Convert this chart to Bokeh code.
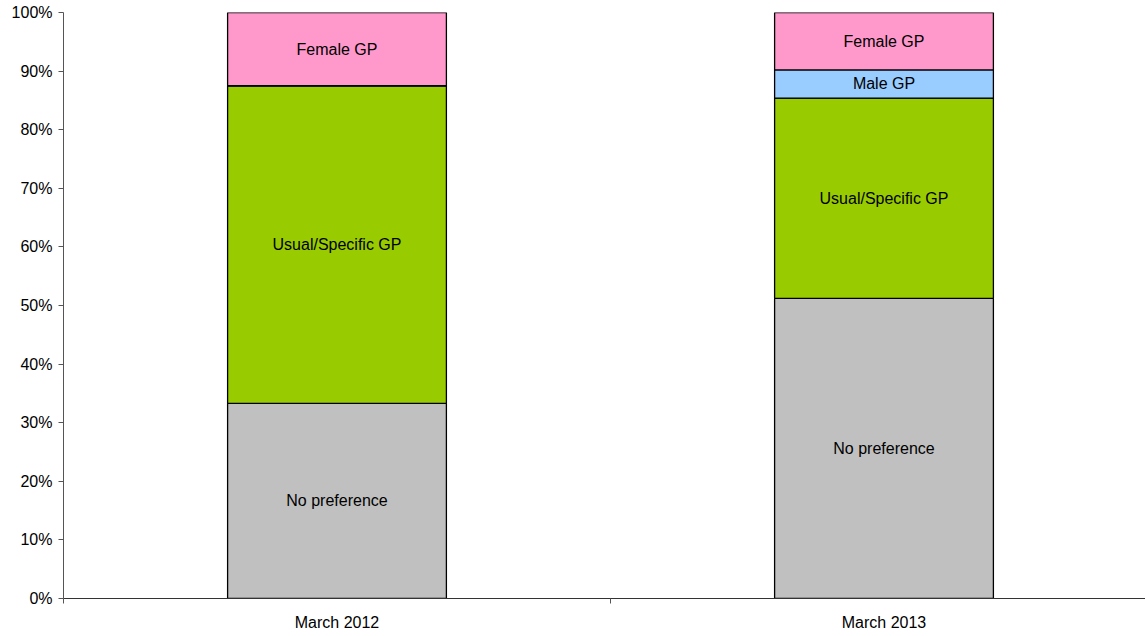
from bokeh.plotting import figure
from bokeh.models import ColumnDataSource, Range1d, FixedTicker, LabelSet
from bokeh.core.properties import value
from bokeh.embed import file_html
from bokeh.resources import INLINE

categories = ["March 2012", "March 2013"]
series = ["No preference", "Usual/Specific GP", "Male GP", "Female GP"]
no_pref = [33.3, 51.2]
usual = [54.2, 34.2]
male = [0.0, 4.8]
female = [12.5, 9.8]
colors = ["#C0C0C0", "#99CC00", "#99CCFF", "#FF99CC"]
y_ticks = [0, 10, 20, 30, 40, 50, 60, 70, 80, 90, 100]

xpos = [i + 0.5 for i in range(len(categories))]
data = {"x": xpos, "No preference": no_pref, "Usual/Specific GP": usual,
        "Male GP": male, "Female GP": female}
src = ColumnDataSource(data)

p = figure(width=1145, height=636, frame_width=1082, frame_height=586,
           min_border_left=63, min_border_top=12, min_border_right=0, min_border_bottom=38,
           output_backend="svg", toolbar_location=None,
           x_range=Range1d(0, 1082 / 547), y_range=Range1d(0, 100))
p.outline_line_color = None
p.xgrid.visible = False
p.ygrid.visible = False

p.vbar_stack(series, x="x", width=0.4, source=src, fill_color=colors,
             line_color="black", line_width=1.3)

# labels at segment centers
lx, ly, lt = [], [], []
vals = [no_pref, usual, male, female]
for i in range(len(categories)):
    base = 0.0
    for name, v in zip(series, vals):
        if v[i] > 0:
            lx.append(xpos[i]); ly.append(base + v[i] / 2); lt.append(name)
        base += v[i]
lsrc = ColumnDataSource(dict(x=lx, y=ly, t=lt))
p.add_layout(LabelSet(x="x", y="y", text="t", source=lsrc, text_align="center",
                      text_baseline="middle", text_font=value("Liberation Sans"),
                      text_font_size=value("16px"), text_color="black"))

p.yaxis.ticker = FixedTicker(ticks=y_ticks)
p.yaxis.major_label_overrides = {t: f"{t}%" for t in y_ticks}
p.yaxis.minor_tick_line_color = None
p.yaxis.major_tick_in = 0
p.yaxis.major_tick_out = 5
p.yaxis.axis_line_color = "#555555"
p.yaxis.major_tick_line_color = "#555555"
p.yaxis.major_label_text_font = "Liberation Sans"
p.yaxis.major_label_text_font_size = "16px"
p.yaxis.major_label_text_color = "black"
p.yaxis.major_label_standoff = 6

p.xaxis.ticker = FixedTicker(ticks=xpos, minor_ticks=[0, 1, 2])
p.xaxis.major_label_overrides = {x: c for x, c in zip(xpos, categories)}
p.xaxis.major_tick_in = 0
p.xaxis.major_tick_out = 0
p.xaxis.minor_tick_in = 0
p.xaxis.minor_tick_out = 5
p.xaxis.minor_tick_line_color = "#555555"
p.xaxis.axis_line_color = "#333333"
p.xaxis.major_label_text_font = "Liberation Sans"
p.xaxis.major_label_text_font_size = "16px"
p.xaxis.major_label_text_color = "black"
p.xaxis.major_label_standoff = 10

open("out.html", "w").write(file_html(p, INLINE))
